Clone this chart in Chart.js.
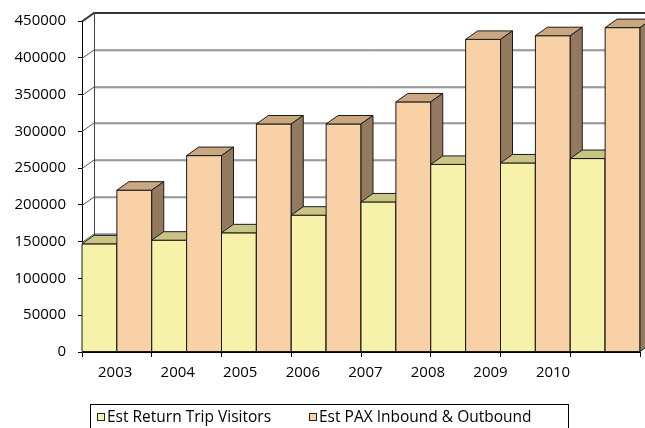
<!DOCTYPE html>
<html>
<head>
<meta charset="utf-8">
<script src="https://cdn.jsdelivr.net/npm/chart.js@4.4.1/dist/chart.umd.min.js"></script>
<style>
  html, body { margin: 0; padding: 0; background: #fff; }
  #wrap { width: 645px; height: 428px; }
</style>
</head>
<body>
<div id="wrap"><canvas id="chart" width="645" height="428"></canvas></div>
<script>
const years = ['2003', '2004', '2005', '2006', '2007', '2008', '2009', '2010'];
const returnTripVisitors = [147000, 152000, 162000, 186000, 204000, 255000, 257000, 263000];
const paxInboundOutbound = [220000, 267000, 310000, 310000, 340000, 425000, 430000, 441000];
const seriesNames = ['Est Return Trip Visitors', 'Est PAX Inbound & Outbound'];

const FONT = "'Open Sans', sans-serif";
const DX = 12, DY = 8.5; // depth of the 3d look

// front / top / side colours per series
const faces = [
  { front: '#f7f2a9', top: '#c9c685', side: '#9c9862' },
  { front: '#f9d1a6', top: '#caa781', side: '#937a5f' }
];

const threeD = {
  id: 'threeD',
  beforeDatasetsDraw(chart) {
    const { ctx, chartArea: a, scales: { y } } = chart;
    const W = chart.width;
    ctx.save();
    ctx.lineWidth = 1;
    y.ticks.forEach(t => {
      const py = Math.round(y.getPixelForValue(t.value)) + 0.5;
      const top = t.value === y.max;
      // light shadow under the wall line
      if (!top) {
        ctx.strokeStyle = '#c0c0c0';
        ctx.beginPath();
        ctx.moveTo(a.left + DX, py - DY + 1);
        ctx.lineTo(W, py - DY + 1);
        ctx.stroke();
      }
      ctx.strokeStyle = top ? '#333' : '#555';
      ctx.lineWidth = top ? 2 : 1;
      ctx.beginPath();
      ctx.moveTo(a.left, py);
      ctx.lineTo(a.left + DX, py - DY);
      ctx.lineTo(W, py - DY);
      ctx.stroke();
    });
    ctx.lineWidth = 1;
    ctx.strokeStyle = '#444';
    ctx.beginPath();
    ctx.moveTo(a.left + DX + 0.5, a.top - DY);
    ctx.lineTo(a.left + DX + 0.5, a.bottom - DY);
    ctx.stroke();
    ctx.restore();
  },
  beforeDatasetDraw() {
    return false;
  },
  afterDatasetsDraw(chart) {
    const { ctx } = chart;
    const n = chart.data.labels.length;
    ctx.save();
    ctx.lineWidth = 1;
    ctx.strokeStyle = '#1a1a1a';
    ctx.lineJoin = 'round';
    for (let i = 0; i < n; i++) {
      chart.data.datasets.forEach((ds, d) => {
        const bar = chart.getDatasetMeta(d).data[i];
        const f = faces[d];
        const x0 = bar.x - bar.width / 2, x1 = bar.x + bar.width / 2;
        const yt = bar.y, yb = bar.base;
        // front
        ctx.fillStyle = f.front;
        ctx.fillRect(x0, yt, x1 - x0, yb - yt);
        ctx.strokeRect(x0, yt, x1 - x0, yb - yt);
        // top
        ctx.fillStyle = f.top;
        ctx.beginPath();
        ctx.moveTo(x0, yt);
        ctx.lineTo(x0 + DX, yt - DY);
        ctx.lineTo(x1 + DX, yt - DY);
        ctx.lineTo(x1, yt);
        ctx.closePath();
        ctx.fill();
        ctx.stroke();
        // right side
        ctx.fillStyle = f.side;
        ctx.beginPath();
        ctx.moveTo(x1, yt);
        ctx.lineTo(x1 + DX, yt - DY);
        ctx.lineTo(x1 + DX, yb - DY);
        ctx.lineTo(x1, yb);
        ctx.closePath();
        ctx.fill();
        ctx.stroke();
      });
    }
    ctx.restore();
  },
  afterDraw(chart) {
    const { ctx } = chart;
    ctx.save();
    // legend box
    ctx.strokeStyle = '#000';
    ctx.lineWidth = 1;
    ctx.strokeRect(90.5, 404.5, 478, 40);
    ctx.font = '15.5px ' + FONT;
    ctx.textBaseline = 'middle';
    const pos = [97, 309];
    chart.data.datasets.forEach((ds, d) => {
      ctx.fillStyle = faces[d].front;
      ctx.fillRect(pos[d] + 0.5, 413.5, 7, 7);
      ctx.strokeStyle = '#222';
      ctx.strokeRect(pos[d] + 0.5, 413.5, 7, 7);
      ctx.fillStyle = '#000';
      ctx.fillText(ds.label, pos[d] + 10, 418);
    });
    ctx.restore();
  }
};

new Chart(document.getElementById('chart'), {
  type: 'bar',
  data: {
    labels: years,
    datasets: [
      { label: seriesNames[0], data: returnTripVisitors, backgroundColor: faces[0].front },
      { label: seriesNames[1], data: paxInboundOutbound, backgroundColor: faces[1].front }
    ]
  },
  options: {
    responsive: false,
    animation: false,
    layout: { padding: { left: 0, right: 5, top: 17, bottom: 0 } },
    datasets: { bar: { categoryPercentage: 1, barPercentage: 1 } },
    plugins: { legend: { display: false }, tooltip: { enabled: false } },
    scales: {
      x: {
        type: 'category',
        position: 'bottom',
        weight: 0,
        offset: true,
        grid: { offset: true, drawOnChartArea: false, tickLength: 5, color: '#000' },
        border: { color: '#000' },
        ticks: { display: false },
        afterFit(s) { s.height = 6; }
      },
      xl: {
        type: 'linear',
        position: 'bottom',
        weight: 1,
        offset: false,
        min: 2002.47,
        max: 2011.39,
        grid: { display: false, drawTicks: false, offset: false },
        border: { display: false },
        ticks: {
          stepSize: 1,
          includeBounds: false,
          autoSkip: false,
          maxRotation: 0,
          padding: 6,
          color: '#000',
          font: { family: FONT, size: 15 },
          callback: v => years.includes(String(v)) ? String(v) : ''
        },
        afterFit(s) { s.height = 70; }
      },
      y: {
        min: 0,
        max: 450000,
        grid: { drawOnChartArea: false, tickLength: 4, color: '#000' },
        border: { color: '#000' },
        ticks: {
          stepSize: 50000,
          padding: 12,
          color: '#000',
          font: { family: FONT, size: 15 },
          callback: v => String(v)
        },
        afterFit(s) { s.width = 82; }
      }
    }
  },
  plugins: [threeD]
});
</script>
</body>
</html>
